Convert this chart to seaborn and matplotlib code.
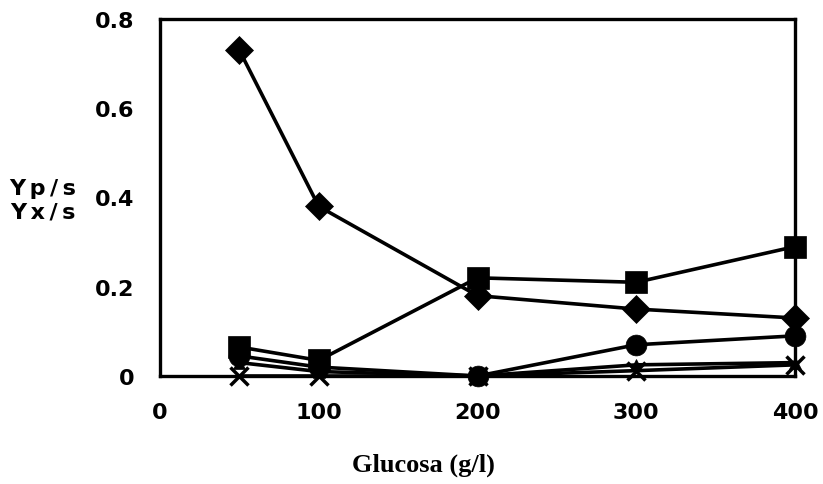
import matplotlib
matplotlib.use("Agg")
import matplotlib.pyplot as plt
import seaborn as sns
import pandas as pd

sns.set_theme(style="white")
plt.rcParams['font.family'] = ['DejaVu Sans']
plt.rcParams['text.color'] = 'black'
plt.rcParams['xtick.color'] = 'black'
plt.rcParams['ytick.color'] = 'black'

glucosa = [50, 100, 200, 300, 400]
serie_rombo = [0.73, 0.38, 0.18, 0.15, 0.13]
serie_cuadrado = [0.065, 0.035, 0.22, 0.21, 0.29]
serie_circulo = [0.045, 0.02, 0.0, 0.07, 0.09]
serie_triangulo = [0.03, 0.01, 0.0, 0.025, 0.03]
serie_x = [0.0, 0.0, 0.0, 0.012, 0.025]

x_ticks = [0, 100, 200, 300, 400]
y_ticks = [0, 0.2, 0.4, 0.6, 0.8]
y_tick_labels = ["0", "0.2", "0.4", "0.6", "0.8"]

series = [
    (serie_x, "x", 13, 2.5),
    (serie_triangulo, "^", 9, 0),
    (serie_circulo, "o", 15, 0),
    (serie_rombo, "D", 14, 0),
    (serie_cuadrado, "s", 16, 0),
]

fig = plt.figure(figsize=(8.23, 4.85), dpi=100)
ax = fig.add_axes([160 / 823, 1 - 377 / 485, (795 - 160) / 823, (377 - 20) / 485])

for valores, marcador, tam, mew in series:
    df = pd.DataFrame({"Glucosa": glucosa, "Y": valores})
    sns.lineplot(data=df, x="Glucosa", y="Y", ax=ax, color="black", linewidth=2.6,
                 marker=marcador, markersize=tam, markeredgewidth=mew if mew else 0.5,
                 markeredgecolor="black", markerfacecolor="black", clip_on=False)

ax.set_xlim(0, 400)
ax.set_ylim(0, 0.8)
ax.set_xticks(x_ticks)
ax.set_xticklabels([str(v) for v in x_ticks], fontsize=16, fontweight="heavy")
ax.set_yticks(y_ticks)
ax.set_yticklabels(y_tick_labels, fontsize=16, fontweight="heavy")
ax.tick_params(axis="x", length=0, pad=19)
ax.tick_params(axis="y", direction="inout", length=9, width=2.2, pad=14, color="black")
for s in ax.spines.values():
    s.set_visible(True)
    s.set_linewidth(2.4)
    s.set_color("black")

ax.set_xlabel("")
ax.set_ylabel("")
fig.text(43 / 823, 1 - 201 / 485, "Y\u2009p\u2009/\u2009s\nY\u2009x\u2009/\u2009s", ha="center", va="center",
         fontsize=16, fontweight="heavy", linespacing=1.2)
fig.text(423 / 823, 1 - 465 / 485, "Glucosa (g/l)", ha="center", va="center",
         fontsize=19, fontweight="bold", family=["Liberation Serif", "DejaVu Serif"])

fig.savefig("out.png", dpi=100, facecolor="white")
